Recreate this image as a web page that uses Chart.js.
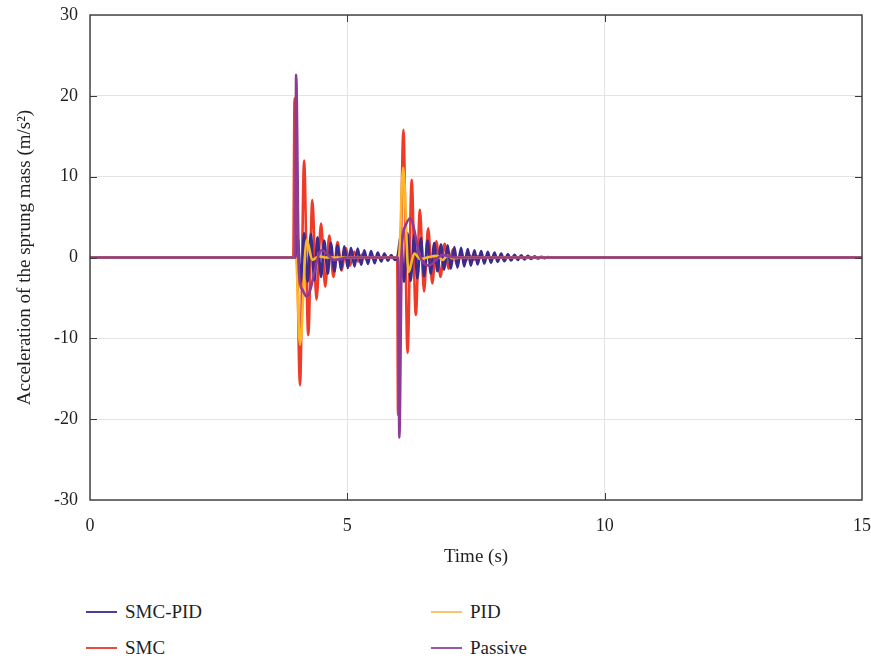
<!DOCTYPE html>
<html>
<head>
<meta charset="utf-8">
<title>Sprung mass acceleration</title>
<script src="https://cdn.jsdelivr.net/npm/chart.js@4"></script>
<style>
  body { margin: 0; background: #fff; overflow: hidden; width: 871px; height: 658px; position: relative; }
  #accChart { position: absolute; left: 0; top: 0; }
  .leg { position: absolute; font-family: 'Liberation Serif', serif; font-size: 19px; color: #231f20; line-height: 20px; }
  .leg span { position: absolute; top: 9px; width: 31px; height: 1.6px; }
  .leg b { font-weight: normal; position: absolute; left: 39px; top: 0; white-space: nowrap; }
</style>
</head>
<body>
<canvas id="accChart" width="880" height="580" style="width:880px;height:580px"></canvas>

<div class="leg" style="left:86px; top:602px;"><span style="background:#4b3f9c"></span><b>SMC-PID</b></div>
<div class="leg" style="left:86px; top:638px;"><span style="background:#ea4a3c"></span><b>SMC</b></div>
<div class="leg" style="left:431px; top:602px;"><span style="background:#fbc56c"></span><b>PID</b></div>
<div class="leg" style="left:431px; top:638px;"><span style="background:#9a56ad"></span><b>Passive</b></div>

<script>
// DATA
const xTicks = [0, 5, 10, 15];
const yTicks = [-30, -20, -10, 0, 10, 20, 30];

const smcPidT = [0, 3.99, 4.03, 4.10, 4.16, 4.23, 4.29, 4.36, 4.42, 4.49, 4.55, 4.62, 4.68, 4.75, 4.81, 4.88, 4.94, 5.01,
    5.07, 5.14, 5.20, 5.27, 5.33, 5.40, 5.46, 5.53, 5.59, 5.66, 5.72, 5.79, 5.85, 5.92, 5.98,
    6.04, 6.10, 6.17, 6.23, 6.30, 6.36, 6.43, 6.49, 6.56, 6.62, 6.69, 6.75, 6.82, 6.88, 6.95, 7.01,
    7.08, 7.14, 7.21, 7.27, 7.34, 7.40, 7.47, 7.53, 7.60, 7.66, 7.73, 7.79, 7.86, 7.92, 7.99, 8.05,
    8.12, 8.18, 8.25, 8.31, 8.38, 8.44, 8.51, 8.57, 8.64, 8.70, 8.77, 8.83, 8.90, 8.96, 9.05, 15];
const smcPidV = [0, 0, 2.8, -3.0, 3.0, -3.0, 2.9, -2.8, 2.5, -2.4, 2.1, -2.0, 1.8, -1.7, 1.5, -1.5, 1.4, -1.3,
    1.2, -1.1, 1.1, -0.9, 0.9, -0.8, 0.8, -0.7, 0.6, -0.5, 0.5, -0.4, 0.3, -0.3, 0.3,
    2.8, -3.0, 3.0, -2.9, 2.8, -2.6, 2.4, -2.3, 2.1, -2.0, 1.8, -1.7, 1.6, -1.5, 1.5, -1.4,
    1.3, -1.25, 1.2, -1.1, 1.05, -1.0, 0.9, -0.85, 0.8, -0.75, 0.7, -0.65, 0.6, -0.55, 0.5, -0.45,
    0.4, -0.38, 0.34, -0.3, 0.27, -0.24, 0.2, -0.18, 0.15, -0.13, 0.1, -0.08, 0.06, -0.04, 0, 0];

const smcT = [0, 3.95, 3.975, 4.08, 4.16, 4.24, 4.32, 4.40, 4.49, 4.57, 4.65, 4.73, 4.81, 4.89, 4.97, 5.05, 5.13,
    5.21, 5.29, 5.37, 5.45, 5.55, 5.97, 5.985, 6.09, 6.17, 6.25, 6.33, 6.41, 6.49, 6.57, 6.65, 6.73,
    6.81, 6.89, 6.97, 7.05, 7.13, 7.21, 7.29, 7.37, 7.45, 7.53, 7.65, 15];
const smcV = [0, 0, 19.7, -15.8, 12.0, -9.6, 7.1, -5.2, 4.2, -3.6, 2.7, -2.4, 1.9, -1.6, 1.2, -1.0, 0.7,
    -0.5, 0.35, -0.2, 0.1, 0, 0, -19.5, 15.8, -11.8, 9.6, -7.1, 5.9, -4.2, 3.6, -3.2, 2.0,
    -2.4, 1.7, -1.4, 1.0, -0.9, 0.6, -0.5, 0.3, -0.3, 0.15, 0, 0];

const pidT = [0, 4.0, 4.08, 4.21, 4.32, 4.45, 4.6, 6.0, 6.085, 6.19, 6.30, 6.42, 6.55, 6.75, 6.85, 6.95, 7.05, 7.2, 15];
const pidV = [0, 0, -10.8, 2.2, -0.3, 0.15, 0, 0, 11.1, -1.8, 0.5, -0.2, 0, 0.2, -0.3, 0.25, -0.1, 0, 0];

const passiveT = [0, 3.99, 4.005, 4.06, 4.12, 4.21, 4.50, 4.75, 5.0, 5.99, 6.01, 6.06, 6.12, 6.22, 6.42, 6.58, 6.85, 7.1, 15];
const passiveV = [0, 0, 22.6, -1.8, -3.9, -4.85, 0.9, -0.3, 0, 0, -22.3, 1.0, 3.8, 4.85, 0, -1.0, 0.3, 0, 0];

function pts(t, v) {
    return t.map((x, i) => ({ x: x, y: v[i] }));
}

Chart.defaults.font.family = "'Liberation Serif', serif";
Chart.defaults.color = '#231f20';

// inward tick marks + frame box
const frameBox = {
    id: 'frameBox',
    afterDraw(chart) {
        const { ctx, chartArea: a, scales } = chart;
        ctx.save();
        ctx.strokeStyle = '#3a3a3a';
        ctx.lineWidth = 1;
        ctx.beginPath();
        yTicks.slice(1, -1).forEach(v => {
            const py = Math.round(scales.y.getPixelForValue(v)) + 0.5;
            ctx.moveTo(a.left, py); ctx.lineTo(a.left + 7, py);
            ctx.moveTo(a.right, py); ctx.lineTo(a.right - 7, py);
        });
        xTicks.slice(1, -1).forEach(v => {
            const px = Math.round(scales.x.getPixelForValue(v)) + 0.5;
            ctx.moveTo(px, a.bottom); ctx.lineTo(px, a.bottom - 7);
            ctx.moveTo(px, a.top); ctx.lineTo(px, a.top + 7);
        });
        ctx.stroke();
        ctx.lineWidth = 1.4;
        ctx.strokeRect(a.left, a.top, a.right - a.left, a.bottom - a.top);
        ctx.restore();
    }
};

const common = { fill: false, pointRadius: 0, borderWidth: 2.6, cubicInterpolationMode: 'monotone' };

new Chart(document.getElementById('accChart'), {
    type: 'line',
    data: {
        datasets: [
            Object.assign({ label: 'SMC-PID', data: pts(smcPidT, smcPidV), borderColor: '#3b2b8e', order: 3 }, common),
            Object.assign({ label: 'SMC', data: pts(smcT, smcV), borderColor: '#ee3a26', order: 4 }, common),
            Object.assign({ label: 'PID', data: pts(pidT, pidV), borderColor: '#fdb823', order: 2 }, common),
            Object.assign({ label: 'Passive', data: pts(passiveT, passiveV), borderColor: '#8e3b97', order: 1 }, common)
        ]
    },
    options: {
        responsive: false,
        animation: false,
        layout: { padding: { left: 0, right: 18, top: 15, bottom: 0 } },
        plugins: { legend: { display: false }, tooltip: { enabled: false } },
        scales: {
            x: {
                type: 'linear',
                min: 0, max: 15,
                afterBuildTicks: s => { s.ticks = xTicks.map(v => ({ value: v })); },
                afterFit: s => { s.height = 80; s.paddingLeft = 0; s.paddingRight = 0; },
                grid: { color: '#e4e4e4', drawTicks: false },
                border: { display: false },
                ticks: { padding: 15, font: { size: 18 }, maxRotation: 0 },
                title: { display: true, text: 'Time (s)', font: { size: 19 }, padding: { top: 0, bottom: 12 } }
            },
            y: {
                min: -30, max: 30,
                afterBuildTicks: s => { s.ticks = yTicks.map(v => ({ value: v })); },
                afterFit: s => { s.width = 90; s.paddingTop = 0; s.paddingBottom = 0; },
                grid: { color: '#e4e4e4', drawTicks: false },
                border: { display: false },
                ticks: { padding: 12, font: { size: 18 } },
                title: { display: true, text: 'Acceleration of the sprung mass (m/s²)', font: { size: 19 }, padding: { top: 14, bottom: 0 } }
            }
        }
    },
    plugins: [frameBox]
});
</script>
</body>
</html>
